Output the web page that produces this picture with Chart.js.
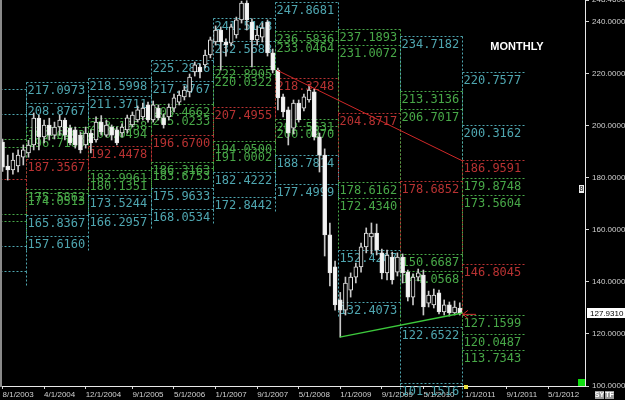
<!DOCTYPE html>
<html>
<head>
<meta charset="utf-8">
<script src="https://cdn.jsdelivr.net/npm/chart.js@4.4.0/dist/chart.umd.min.js"></script>
<style>
  html, body { margin: 0; padding: 0; background: #000; overflow: hidden; }
  #wrap { width: 625px; height: 400px; position: relative; }
</style>
</head>
<body>
<div id="wrap"><canvas id="myChart"></canvas></div>
<script>
// monthly candles, index 0 = Aug 2003, last = Dec 2010
const opens = [193.8, 184.6, 183.1, 184.6, 188.0, 189.6, 192.7, 203.0, 195.8, 200.4,
  196.5, 199.6, 202.3, 199.2, 198.5, 196.5, 192.7, 197.3, 194.6, 201.5,
  196.5, 199.6, 198.5, 197.3, 198.5, 200.4, 202.3, 203.5, 208.1, 202.3,
  206.9, 203.1, 203.5, 206.9, 209.2, 211.2, 213.1, 220.8, 222.7, 223.5,
  227.3, 232.3, 236.9, 232.3, 231.9, 235.0, 240.8, 247.3, 240.0, 233.1,
  234.2, 240.0, 228.1, 221.5, 211.2, 206.2, 199.2, 208.8, 206.9, 210.0,
  213.1, 195.8, 188.8, 158.1, 145.8, 133.1, 129.2, 136.9, 141.9, 145.8,
  153.5, 157.3, 158.8, 151.2, 143.5, 149.6, 143.8, 149.6, 143.8, 134.2,
  141.9, 142.7, 131.9, 131.2, 135.8, 128.5, 131.2, 128.1, 130.0];
const highs = [195.0, 188.8, 189.6, 190.8, 192.7, 194.5, 205.0, 204.2, 202.3, 203.0,
  201.5, 204.2, 203.0, 200.4, 199.6, 197.7, 199.6, 198.5, 203.5, 204.0,
  202.3, 200.4, 199.6, 200.8, 204.2, 205.4, 207.7, 208.8, 209.2, 209.6,
  208.1, 204.6, 208.5, 212.3, 213.5, 215.4, 220.0, 224.6, 223.8, 229.2,
  234.2, 238.5, 238.1, 233.5, 239.2, 241.9, 248.0, 248.2, 241.2, 238.5,
  239.6, 240.8, 229.6, 222.3, 212.3, 207.3, 210.0, 210.0, 212.3, 215.4,
  214.2, 197.3, 191.2, 162.7, 148.0, 136.0, 141.9, 143.5, 147.3, 155.0,
  160.8, 162.7, 162.3, 152.7, 152.3, 151.5, 151.2, 150.8, 144.6, 143.1,
  145.0, 144.6, 136.5, 137.3, 136.9, 133.1, 132.3, 132.7, 132.0];
const lows = [182.5, 179.2, 181.5, 182.3, 185.0, 188.0, 190.8, 190.8, 193.5, 194.6,
  195.0, 196.5, 194.6, 192.7, 191.5, 189.6, 191.5, 189.6, 193.8, 196.5,
  195.8, 194.6, 192.7, 195.8, 197.3, 199.6, 201.5, 202.3, 201.5, 201.5,
  202.3, 199.2, 202.3, 205.4, 208.1, 210.0, 211.2, 219.2, 218.5, 222.3,
  226.2, 231.2, 221.5, 226.9, 230.8, 233.8, 239.6, 236.9, 222.7, 231.2,
  232.3, 226.9, 220.4, 206.2, 203.5, 192.7, 196.9, 201.5, 205.8, 209.2,
  194.6, 182.3, 150.0, 138.5, 129.2, 118.8, 127.3, 134.2, 139.6, 143.8,
  151.2, 150.8, 150.4, 141.2, 140.8, 139.2, 142.3, 139.6, 132.7, 131.2,
  140.4, 127.3, 130.4, 130.0, 127.7, 127.3, 126.9, 127.3, 127.3];
const closes = [184.2, 183.1, 186.9, 188.8, 190.8, 192.7, 203.0, 195.8, 200.4, 196.5,
  199.6, 202.3, 196.5, 193.5, 192.7, 190.8, 197.3, 193.5, 201.5, 197.7,
  200.4, 196.5, 193.5, 199.6, 203.1, 204.2, 206.2, 206.9, 202.3, 208.1,
  203.1, 200.4, 207.3, 210.8, 211.9, 213.8, 218.8, 223.5, 220.8, 227.3,
  233.1, 236.9, 232.3, 231.2, 238.1, 240.8, 247.3, 240.8, 233.1, 235.0,
  237.7, 228.1, 221.5, 210.8, 205.4, 197.3, 208.8, 202.3, 211.2, 213.8,
  195.8, 188.8, 158.1, 143.5, 131.2, 129.2, 139.6, 141.9, 145.8, 153.5,
  158.8, 158.8, 152.3, 143.5, 150.4, 140.8, 149.6, 143.5, 134.2, 141.9,
  143.5, 130.4, 135.0, 135.0, 128.5, 131.2, 128.1, 130.4, 127.931];

// x axis ticks (month index) and their labels
const tickMonths = [0, 8, 16, 25, 33, 41, 49, 57, 65, 73, 81, 89, 97, 105];
const tickLabels = ['8/1/2003', '4/1/2004', '12/1/2004', '9/1/2005', '5/1/2006', '1/1/2007', '9/1/2007',
  '5/1/2008', '1/1/2009', '9/1/2009', '5/1/2010', '1/1/2011', '9/1/2011', '5/1/2012'];

// yearly levels: month index of January, then [value, kind] (c = cyan, g = green, r = red)
const segStart = [-7, 5, 17, 29, 41, 53, 65, 77, 89];
const lv2003 = [[214.2, 'c'], [204.6, 'c'], [195.0, 'g'], [191.9, 'g'], [179.6, 'r'], [166.2, 'g'], [163.5, 'g'], [153.8, 'c'], [144.2, 'c']];
const lv2004 = [[217.0973, 'c'], [208.8767, 'c'], [199.6493, 'g'], [196.7180, 'g'], [187.3567, 'r'], [175.5862, 'g'], [174.0513, 'g'], [165.8367, 'c'], [157.6160, 'c']];
const lv2005 = [[218.5998, 'c'], [211.3711, 'c'], [203.1658, 'g'], [200.0494, 'g'], [192.4478, 'r'], [182.9961, 'g'], [180.1351, 'g'], [173.5244, 'c'], [166.2957, 'c']];
const lv2006 = [[225.2816, 'c'], [217.3767, 'c'], [208.4662, 'g'], [205.0233, 'g'], [196.6700, 'r'], [186.3163, 'g'], [183.6753, 'g'], [175.9633, 'c'], [168.0534, 'c']];
const lv2007 = [[241.5148, 'c'], [232.5688, 'c'], [222.8905, 'g'], [220.0322, 'g'], [207.4955, 'r'], [194.0500, 'g'], [191.0002, 'g'], [182.4222, 'c'], [172.8442, 'c']];
const lv2008 = [[247.8681, 'c'], [236.5836, 'g'], [233.0464, 'g'], [218.3248, 'r'], [202.5631, 'g'], [200.0970, 'g'], [188.7814, 'c'], [177.4999, 'c']];
const lv2009 = [[237.1893, 'g'], [231.0072, 'g'], [204.8717, 'r'], [178.6162, 'g'], [172.4340, 'g'], [152.4207, 'c'], [132.4073, 'c']];
const lv2010 = [[234.7182, 'c'], [213.3136, 'g'], [206.7017, 'g'], [178.6852, 'r'], [150.6687, 'g'], [144.0568, 'g'], [122.6522, 'c'], [101.1516, 'c']];
const lv2011 = [[220.7577, 'c'], [200.3162, 'c'], [186.9591, 'r'], [179.8748, 'g'], [173.5604, 'g'], [146.8045, 'r'], [127.1599, 'g'], [120.0487, 'g'], [113.7343, 'g']];
const segLevels = [lv2003, lv2004, lv2005, lv2006, lv2007, lv2008, lv2009, lv2010, lv2011];

// trend lines [month index, price]
const redTrend = [[52.8, 221.5], [88.5, 186.6]];
const greenTrend = [[64.9, 118.8], [88.5, 128.1]];

const levelColors = { c: '#4fa6b0', g: '#48a848', r: '#b83232' };
const axisFont = '"Liberation Sans Narrow", "Liberation Sans", Arial, sans-serif';

const levelPlugin = {
  id: 'levels',
  beforeDatasetsDraw(chart) {
    const { ctx, chartArea, scales: { x, y } } = chart;
    ctx.save();
    ctx.font = '12px "DejaVu Sans Mono"';
    ctx.lineWidth = 1;
    ctx.setLineDash([2, 2]);
    segStart.forEach((m, s) => {
      const x0 = Math.round(x.getPixelForValue(m - 0.5)) + 0.5;
      const x1 = Math.round(x.getPixelForValue(m + 11.5)) + 0.5;
      const lv = segLevels[s];
      lv.forEach(([v, k], j) => {
        const py = Math.round(y.getPixelForValue(v)) + 0.5;
        const ny = j < lv.length - 1 ? Math.round(y.getPixelForValue(lv[j + 1][0])) + 0.5 : py + 14;
        ctx.strokeStyle = levelColors[k];
        ctx.beginPath();
        ctx.moveTo(x0, py); ctx.lineTo(x1, py);
        ctx.moveTo(x0, py); ctx.lineTo(x0, ny);
        if (s < segStart.length - 1) { ctx.moveTo(x1, py); ctx.lineTo(x1, ny); }
        ctx.stroke();
        if (x0 >= chartArea.left) {
          ctx.fillStyle = levelColors[k];
          ctx.fillText(v.toFixed(4), x0 + 1, py + 11);
        }
      });
    });
    ctx.restore();
  },
  afterDraw(chart) {
    const { ctx, scales: { x, y } } = chart;
    ctx.save();
    // left frame
    ctx.fillStyle = '#8a8a8a';
    ctx.fillRect(0, 0, 2, 387);
    // title
    ctx.fillStyle = '#fff';
    ctx.font = 'bold 11px "Liberation Sans", Arial';
    ctx.textAlign = 'center';
    ctx.fillText('MONTHLY', 517, 50);
    // last price box
    const last = closes[closes.length - 1];
    const ly = y.getPixelForValue(last);
    ctx.fillStyle = '#fff';
    ctx.fillRect(587, Math.round(ly) - 5, 38, 10);
    ctx.fillStyle = '#000';
    ctx.font = '8px ' + axisFont;
    ctx.textAlign = 'left';
    ctx.textBaseline = 'middle';
    ctx.fillText(last.toFixed(4), 590, Math.round(ly) + 0.5);
    // arrow at last price
    const ax = x.getPixelForValue(closes.length - 0.4);
    ctx.strokeStyle = '#d03030';
    ctx.lineWidth = 1;
    ctx.beginPath();
    ctx.moveTo(ax, ly + 1); ctx.lineTo(ax + 13, ly + 1);
    ctx.moveTo(ax, ly + 1); ctx.lineTo(ax + 5, ly - 3);
    ctx.moveTo(ax, ly + 1); ctx.lineTo(ax + 5, ly + 5);
    ctx.stroke();
    // markers
    ctx.fillStyle = '#10dd10';
    ctx.fillRect(578, 379, 7, 7);
    ctx.fillStyle = '#e8e040';
    ctx.fillRect(464, 385, 4, 4);
    ctx.fillStyle = '#eee';
    ctx.fillRect(579, 185, 5, 8);
    ctx.fillStyle = '#000';
    ctx.font = '7px ' + axisFont;
    ctx.textAlign = 'center';
    ctx.fillText('8', 581.5, 189.5);
    // SY / TF buttons
    [['SY', 595], ['TF', 605]].forEach(([t, bx]) => {
      ctx.fillStyle = '#9a9a9a';
      ctx.fillRect(bx, 391, 9, 8);
      ctx.fillStyle = '#fff';
      ctx.font = 'bold 7px ' + axisFont;
      ctx.fillText(t, bx + 4.5, 395.5);
    });
    ctx.restore();
  }
};

const ctx = document.getElementById('myChart').getContext('2d');

new Chart(ctx, {
  type: 'bar',
  data: {
    datasets: [
      {
        type: 'line',
        data: redTrend.map(p => ({ x: p[0], y: p[1] })),
        borderColor: '#d02828',
        borderWidth: 1,
        pointRadius: 0,
        order: 0
      },
      {
        type: 'line',
        data: greenTrend.map(p => ({ x: p[0], y: p[1] })),
        borderColor: '#3cc83c',
        borderWidth: 1.5,
        pointRadius: 0,
        order: 0
      },
      {
        label: 'wick',
        data: highs.map((h, i) => ({ x: i, y: [lows[i], h] })),
        backgroundColor: '#c8c8c8',
        barThickness: 1,
        grouped: false,
        order: 2
      },
      {
        label: 'body',
        data: opens.map((o, i) => ({ x: i, y: [o, closes[i]] })),
        backgroundColor: opens.map((o, i) => closes[i] < o ? '#f4f4f4' : '#000'),
        borderColor: '#e8e8e8',
        borderWidth: 1,
        borderSkipped: false,
        barThickness: 4,
        grouped: false,
        order: 1
      }
    ]
  },
  options: {
    responsive: true,
    maintainAspectRatio: false,
    animation: false,
    layout: { padding: { left: 2, top: 0, right: 0, bottom: 0 } },
    plugins: { legend: { display: false }, tooltip: { enabled: false } },
    scales: {
      x: {
        type: 'linear',
        min: -0.1,
        max: 112.1,
        offset: false,
        grid: { offset: false, drawOnChartArea: false, tickLength: 3, color: '#d8d8d8' },
        border: { color: '#e8e8e8' },
        ticks: {
          align: 'start',
          autoSkip: false,
          maxRotation: 0,
          padding: 1,
          color: '#d0d0d0',
          font: { size: 8, family: axisFont },
          callback: (v, i) => tickLabels[i]
        },
        afterBuildTicks: scale => { scale.ticks = tickMonths.map(v => ({ value: v })); },
        afterFit: scale => {
          scale.height = 14;
          scale.paddingLeft = 0;
          scale.paddingRight = 0;
        }
      },
      y: {
        type: 'linear',
        position: 'right',
        min: 100,
        max: 248.46,
        grid: { drawOnChartArea: false, tickLength: 4, color: '#d8d8d8' },
        border: { color: '#e8e8e8' },
        ticks: {
          stepSize: 20,
          padding: 3,
          color: '#d0d0d0',
          font: { size: 8, family: axisFont },
          callback: v => v.toFixed(4)
        },
        afterFit: scale => {
          scale.width = 40;
          scale.paddingTop = 0;
          scale.paddingBottom = 0;
        }
      }
    }
  },
  plugins: [levelPlugin]
});
</script>
</body>
</html>
